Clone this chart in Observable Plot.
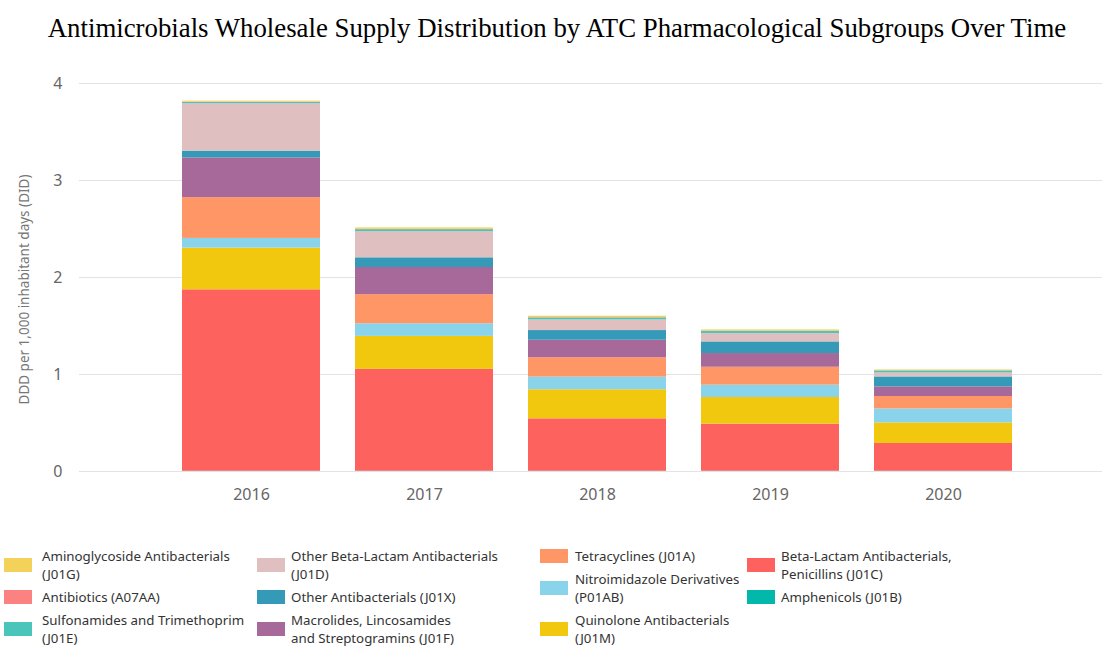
<!DOCTYPE html>
<html>
<head>
<meta charset="utf-8">
<script src="https://cdn.jsdelivr.net/npm/d3@7"></script>
<script src="https://cdn.jsdelivr.net/npm/@observablehq/plot@0.6"></script>
<style>
  html, body { margin: 0; padding: 0; background: #fff; width: 1102px; height: 646px; overflow: hidden; }
  #title { height: 49px; padding-top: 13px; padding-left: 12px; box-sizing: content-box; text-align: center;
    font-family: "Liberation Serif", "Times New Roman", serif; font-size: 26.8px; line-height: 30px; color: #000; white-space: nowrap; }
  #chart { position: absolute; left: 0; top: 62px; }
  #legend { position: absolute; left: 0; top: 547px; width: 1102px; height: 99px;
    font-family: "Noto Sans", "Open Sans", sans-serif; font-size: 13.3px; color: #333; }
  .col { position: absolute; top: 0; }
  .item { display: flex; align-items: center; margin-bottom: 5px; }
  .sw { width: 28px; height: 14px; flex: none; }
  .lab { line-height: 18px; white-space: pre; }
</style>
</head>
<body>
<div id="title"></div>
<div id="chart"></div>
<div id="legend"></div>
<script>
const titleText = "Antimicrobials Wholesale Supply Distribution by ATC Pharmacological Subgroups Over Time";
const yLabel = "DDD per 1,000 inhabitant days (DID)";
const years = ["2016", "2017", "2018", "2019", "2020"];
const yTicks = [0, 1, 2, 3, 4];

// Stack order, bottom to top
const stackSeries = ["J01B", "J01C", "J01M", "P01AB", "J01A", "J01F", "J01X", "J01D", "J01E", "A07AA", "J01G"];

// Values per series, per year (2016..2020)
const J01B  = [0.003, 0.003, 0.003, 0.003, 0.003];
const J01C  = [1.87, 1.05, 0.54, 0.485, 0.286];
const J01M  = [0.43, 0.34, 0.30, 0.275, 0.212];
const P01AB = [0.10, 0.13, 0.13, 0.127, 0.144];
const J01A  = [0.42, 0.30, 0.20, 0.185, 0.128];
const J01F  = [0.41, 0.28, 0.18, 0.141, 0.099];
const J01X  = [0.07, 0.10, 0.10, 0.12, 0.103];
const J01D  = [0.49, 0.27, 0.11, 0.087, 0.041];
const J01E  = [0.012, 0.02, 0.02, 0.022, 0.02];
const A07AA = [0.003, 0.003, 0.003, 0.003, 0.003];
const J01G  = [0.01, 0.015, 0.015, 0.012, 0.008];
const values = {J01B, J01C, J01M, P01AB, J01A, J01F, J01X, J01D, J01E, A07AA, J01G};

// Legend order (column-major, 3 per column)
const legendSeries = ["J01G", "A07AA", "J01E", "J01D", "J01X", "J01F", "J01A", "P01AB", "J01M", "J01C", "J01B"];
const legendLabels = [
  "Aminoglycoside Antibacterials\n(J01G)",
  "Antibiotics (A07AA)",
  "Sulfonamides and Trimethoprim\n(J01E)",
  "Other Beta-Lactam Antibacterials\n(J01D)",
  "Other Antibacterials (J01X)",
  "Macrolides, Lincosamides\nand Streptogramins (J01F)",
  "Tetracyclines (J01A)",
  "Nitroimidazole Derivatives\n(P01AB)",
  "Quinolone Antibacterials\n(J01M)",
  "Beta-Lactam Antibacterials,\nPenicillins (J01C)",
  "Amphenicols (J01B)"
];
const legendColors = ["#F4D25A", "#FB8281", "#4AC5BB", "#DFBFBF", "#3599B8", "#A66999", "#FE9666", "#8AD4EB", "#F2C80F", "#FD625E", "#01B8AA"];

document.getElementById("title").textContent = titleText;

const data = [];
for (const s of stackSeries) {
  years.forEach((yr, i) => data.push({year: yr, series: s, value: values[s][i]}));
}

const chart = Plot.plot({
  width: 1102,
  height: 478,
  marginLeft: 79,
  marginRight: 0,
  marginTop: 21,
  marginBottom: 69,
  style: {fontFamily: "'Noto Sans', 'Open Sans', sans-serif", fontSize: "16px", color: "#666", background: "#fff"},
  x: {domain: years, range: [164.7, 1029.7], paddingInner: 0.2, paddingOuter: 0.1, label: null, tickSize: 0, tickPadding: 17},
  y: {domain: [0, 4], ticks: yTicks, tickFormat: "d", label: null, tickSize: 0, tickPadding: 17},
  color: {domain: legendSeries, range: legendColors},
  marks: [
    Plot.ruleY(yTicks, {stroke: "#e3e3e3", strokeWidth: 1.2}),
    Plot.barY(data, {x: "year", y: "value", fill: "series", inset: 0}),
    Plot.text([yLabel], {frameAnchor: "left", textAnchor: "middle", dx: -55, dy: 12, rotate: -90, fontSize: 13.5, fill: "#777"})
  ]
});
document.getElementById("chart").appendChild(chart);

// Legend
const legend = document.getElementById("legend");
const colX = [4, 257, 540, 747];
const textGap = [10, 6, 7, 6];
for (let c = 0; c < 4; c++) {
  const col = document.createElement("div");
  col.className = "col";
  col.style.left = colX[c] + "px";
  for (let r = 0; r < 3; r++) {
    const idx = c * 3 + r;
    if (idx >= legendSeries.length) break;
    const item = document.createElement("div");
    item.className = "item";
    const sw = document.createElement("div");
    sw.className = "sw";
    sw.style.background = legendColors[idx];
    sw.style.marginRight = textGap[c] + "px";
    const lab = document.createElement("div");
    lab.className = "lab";
    lab.textContent = legendLabels[idx];
    item.appendChild(sw);
    item.appendChild(lab);
    col.appendChild(item);
  }
  legend.appendChild(col);
}
</script>
</body>
</html>
